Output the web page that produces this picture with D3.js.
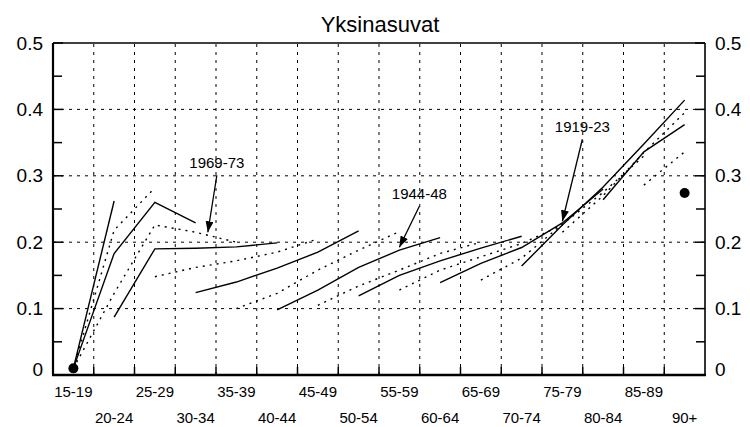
<!doctype html>
<html lang="fi">
<head>
<meta charset="utf-8">
<title>Yksinasuvat</title>
<script src="https://cdnjs.cloudflare.com/ajax/libs/d3/7.8.5/d3.min.js"></script>
<style>
  body { margin: 0; background: #fff; }
  svg text { font-family: "Liberation Sans", Arial, Helvetica, sans-serif; fill: #000; }
</style>
</head>
<body>
<div id="chart"></div>
<script>
// age groups on the x axis
var ageGroups = ["15-19", "20-24", "25-29", "30-34", "35-39", "40-44", "45-49", "50-54",
                 "55-59", "60-64", "65-69", "70-74", "75-79", "80-84", "85-89", "90+"];

// birth cohorts, youngest first; each starts at an age group index
var cohorts = ["1989-93", "1984-88", "1979-83", "1974-78", "1969-73", "1964-68", "1959-63",
               "1954-58", "1949-53", "1944-48", "1939-43", "1934-38", "1929-33", "1924-28",
               "1919-23", "1914-18", "1909-13", "1904-08", "1899-1903", "1894-98"];
var cohortStart = [0, 0, 0, 0, 0, 1, 2, 3, 4, 5, 6, 7, 8, 9, 10, 11, 12, 13, 14, 15];
var cohortValues = [
  [0.01],
  [0.01, 0.262],
  [0.01, 0.218, 0.282],
  [0.01, 0.183, 0.26, 0.229],
  [0.01, 0.123, 0.226, 0.215, 0.20],
  [0.087, 0.19, 0.191, 0.193, 0.199],
  [0.148, 0.162, 0.172, 0.185, 0.205],
  [0.124, 0.14, 0.161, 0.185, 0.217],
  [0.10, 0.123, 0.158, 0.188, 0.216],
  [0.098, 0.128, 0.162, 0.188, 0.207],
  [0.105, 0.134, 0.158, 0.183, 0.20],
  [0.119, 0.15, 0.172, 0.191, 0.209],
  [0.128, 0.158, 0.178, 0.198, 0.226],
  [0.139, 0.168, 0.192, 0.229, 0.28],
  [0.143, 0.176, 0.227, 0.275, 0.33],
  [0.164, 0.226, 0.283, 0.348, 0.414],
  [0.215, 0.27, 0.335, 0.395],
  [0.264, 0.336, 0.377],
  [0.286, 0.336],
  [0.274]
];

// labelled cohorts and where along the age axis the arrow points
var labelCohorts = ["1969-73", "1944-48", "1919-23"];
var labelAt = [3.3, 8.0, 12.0];

var yTicks = [0, 0.1, 0.2, 0.3, 0.4, 0.5];

var width = 750, height = 427;
var margin = {top: 43, right: 45, bottom: 52, left: 53};

var svg = d3.select("#chart").append("svg")
    .attr("width", width)
    .attr("height", height);

var x = d3.scaleBand()
    .domain(ageGroups)
    .range([margin.left, width - margin.right]);

var y = d3.scaleLinear()
    .domain([0, 0.5])
    .range([height - margin.bottom, margin.top]);

// position of fractional age index
function xPos(i) { return x.range()[0] + x.step() * (i + 0.5); }

var x0 = x.range()[0], x1 = x.range()[1];
var y0 = y(0), y1 = y(0.5);

// grid
var grid = svg.append("g").attr("stroke", "#000").attr("stroke-width", 1)
    .attr("stroke-dasharray", "3,5");
ageGroups.slice(1).forEach(function(a) {
  grid.append("line").attr("x1", x(a)).attr("x2", x(a)).attr("y1", y0).attr("y2", y1);
});
[0.1, 0.2, 0.3, 0.4].forEach(function(v) {
  grid.append("line").attr("x1", x0).attr("x2", x1).attr("y1", y(v)).attr("y2", y(v));
});

// ticks
var ticks = svg.append("g").attr("stroke", "#000").attr("stroke-width", 1.5);
d3.range(0, 0.501, 0.05).forEach(function(v) {
  var len = Math.abs(Math.round(v * 20) % 2) === 0 ? 10 : 9;
  ticks.append("line").attr("x1", x0).attr("x2", x0 + len).attr("y1", y(v)).attr("y2", y(v));
  ticks.append("line").attr("x1", x1).attr("x2", x1 - len).attr("y1", y(v)).attr("y2", y(v));
});
ageGroups.slice(1).forEach(function(a) {
  ticks.append("line").attr("x1", x(a)).attr("x2", x(a)).attr("y1", y0).attr("y2", y0 - 8);
});

// frame
svg.append("line").attr("x1", x0).attr("x2", x1).attr("y1", y1).attr("y2", y1)
    .attr("stroke", "#000").attr("stroke-width", 1.6);
svg.append("line").attr("x1", x1).attr("x2", x1).attr("y1", y1).attr("y2", y0)
    .attr("stroke", "#000").attr("stroke-width", 1.6);
svg.append("line").attr("x1", x0).attr("x2", x0).attr("y1", y1).attr("y2", y0)
    .attr("stroke", "#000").attr("stroke-width", 2.2);
svg.append("line").attr("x1", x0 - 1).attr("x2", x1 + 1).attr("y1", y0).attr("y2", y0)
    .attr("stroke", "#000").attr("stroke-width", 2.4);

// y tick labels, both sides
yTicks.forEach(function(v) {
  var lab = v === 0 ? "0" : d3.format(".1f")(v);
  var yy = y(v) + (v === 0 ? -6 : 0);
  svg.append("text").attr("x", x0 - 10).attr("y", yy).attr("dy", "0.35em")
      .attr("text-anchor", "end").style("font-size", "19px").text(lab);
  svg.append("text").attr("x", x1 + 10).attr("y", yy).attr("dy", "0.35em")
      .attr("text-anchor", "start").style("font-size", "19px").text(lab);
});

// x labels on two rows
ageGroups.forEach(function(a, i) {
  svg.append("text")
      .attr("x", x(a) + x.bandwidth() / 2)
      .attr("y", i % 2 === 0 ? 397 : 423)
      .attr("text-anchor", "middle")
      .style("font-size", "15px")
      .text(a);
});

// title
svg.append("text").attr("x", (x0 + x1) / 2 + 1).attr("y", 32)
    .attr("text-anchor", "middle").style("font-size", "22px").text("Yksinasuvat");

// cohort lines
var line = d3.line()
    .x(function(d) { return d.x; })
    .y(function(d) { return d.y; });

cohorts.forEach(function(c, k) {
  var pts = cohortValues[k].map(function(v, j) {
    return {x: xPos(cohortStart[k] + j), y: y(v)};
  });
  if (pts.length === 1) {
    svg.append("circle").attr("cx", pts[0].x).attr("cy", pts[0].y).attr("r", 5).attr("fill", "#000");
    return;
  }
  svg.append("path")
      .attr("d", line(pts))
      .attr("fill", "none")
      .attr("stroke", "#000")
      .attr("stroke-width", 1.4)
      .attr("stroke-dasharray", k % 2 === 1 ? null : "2,5");
});

// arrows + cohort labels
svg.append("defs").append("marker")
    .attr("id", "head")
    .attr("markerUnits", "userSpaceOnUse")
    .attr("markerWidth", 12).attr("markerHeight", 8)
    .attr("refX", 11).attr("refY", 4)
    .attr("orient", "auto")
  .append("path").attr("d", "M0,0 L11,4 L0,8 Z").attr("fill", "#000");

var labelOffset = [[9, -57], [20, -41], [20, -82]];

labelCohorts.forEach(function(c, n) {
  var k = cohorts.indexOf(c);
  var t = labelAt[n] - cohortStart[k];
  var j = Math.min(Math.floor(t), cohortValues[k].length - 2);
  var f = t - j;
  var v = cohortValues[k][j] * (1 - f) + cohortValues[k][j + 1] * f;
  var tx = xPos(labelAt[n]), ty = y(v) - 3;
  var lx = tx + labelOffset[n][0], ly = ty + labelOffset[n][1];
  svg.append("line")
      .attr("x1", lx).attr("y1", ly)
      .attr("x2", tx).attr("y2", ty)
      .attr("stroke", "#000").attr("stroke-width", 1.3)
      .attr("marker-end", "url(#head)");
  svg.append("text").attr("x", lx).attr("y", ly - 7)
      .attr("text-anchor", "middle").style("font-size", "15px").text(c);
});
</script>
</body>
</html>
